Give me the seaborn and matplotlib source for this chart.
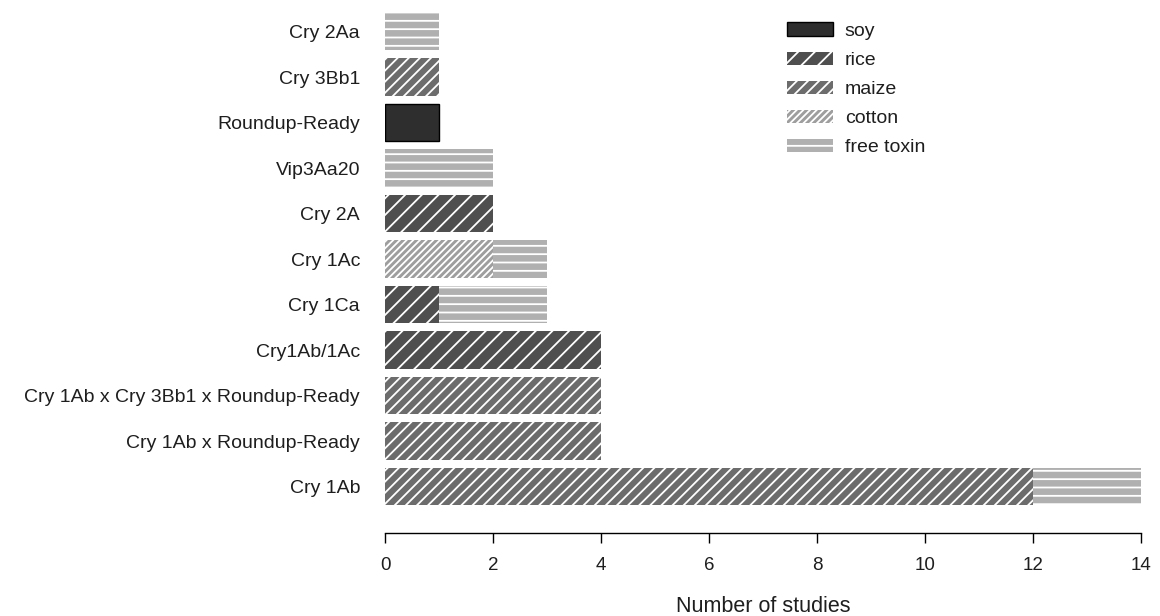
import numpy as np
import pandas as pd
import matplotlib
matplotlib.use("Agg")
import matplotlib.pyplot as plt
import seaborn as sns
from matplotlib.patches import Patch

# ---- data (top to bottom as displayed) ----
categories = ["Cry 2Aa", "Cry 3Bb1", "Roundup-Ready", "Vip3Aa20", "Cry 2A", "Cry 1Ac",
              "Cry 1Ca", "Cry1Ab/1Ac", "Cry 1Ab x Cry 3Bb1 x Roundup-Ready",
              "Cry 1Ab x Roundup-Ready", "Cry 1Ab"]
soy        = [0, 0, 1, 0, 0, 0, 0, 0, 0, 0, 0]
rice       = [0, 0, 0, 0, 2, 0, 1, 4, 0, 0, 0]
maize      = [0, 1, 0, 0, 0, 0, 0, 0, 4, 4, 12]
cotton     = [0, 0, 0, 0, 0, 2, 0, 0, 0, 0, 0]
free_toxin = [1, 0, 0, 2, 0, 1, 2, 0, 0, 0, 2]
crop_names = ["soy", "rice", "maize", "cotton", "free toxin"]
x_ticks = [0, 2, 4, 6, 8, 10, 12, 14]

sns.set_theme(style="white")
plt.rcParams["font.family"] = ["Liberation Sans", "DejaVu Sans"]
plt.rcParams["hatch.linewidth"] = 1.3

styles = {
    "soy":        dict(color="#2e2e2e", hatch=None,    edgecolor="black", linewidth=1.0),
    "rice":       dict(color="#4f4f4f", hatch="//",    edgecolor="white", linewidth=0),
    "maize":      dict(color="#6c6c6c", hatch="///",   edgecolor="white", linewidth=0),
    "cotton":     dict(color="#9e9e9e", hatch="/////", edgecolor="white", linewidth=0),
    "free toxin": dict(color="#b0b0b0", hatch="--",    edgecolor="white", linewidth=0),
}

df = pd.DataFrame({"category": categories, "soy": soy, "rice": rice, "maize": maize,
                   "cotton": cotton, "free toxin": free_toxin})
cum = df[crop_names].cumsum(axis=1)

fig = plt.figure(figsize=(11.6, 6.16), dpi=100)
ax = fig.add_axes([385/1160, 1 - 533/616, (1141 - 385)/1160, (533 - 8)/616])

# draw cumulative bars from the last layer to the first (overlap stacking)
for name in reversed(crop_names):
    mask = df[name] > 0
    sub = pd.DataFrame({"category": df.loc[mask, "category"], "value": cum.loc[mask, name]})
    st = styles[name]
    kw = dict(color=st["color"], edgecolor=st["edgecolor"], linewidth=st["linewidth"])
    if st["hatch"]:
        kw["hatch"] = st["hatch"]
    sns.barplot(data=sub, x="value", y="category", order=categories, orient="h",
                width=0.82, saturation=1, ax=ax, **kw)

txt = "#1e1e1e"
ax.set_xlim(0, 14)
ax.set_ylim(10 + 1.02, -0.52)
ax.set_xticks(x_ticks)
ax.set_xticklabels([str(t) for t in x_ticks], fontsize=13.5, color=txt)
ax.tick_params(axis="x", direction="out", length=7, width=1, color="black", pad=10, bottom=True)
ax.tick_params(axis="y", length=0, pad=18, labelsize=14, labelcolor=txt)
for s in ["top", "right", "left"]:
    ax.spines[s].set_visible(False)
ax.spines["bottom"].set_color("black")
ax.spines["bottom"].set_linewidth(1)
ax.set_ylabel("")
ax.set_xlabel("Number of studies", fontsize=15.5, color=txt, labelpad=16)

handles = []
for name in crop_names:
    st = styles[name]
    handles.append(Patch(facecolor=st["color"], edgecolor=st["edgecolor"] if name == "soy" else "white",
                         linewidth=st["linewidth"], hatch=st["hatch"], label=name))
ax.legend(handles=handles, loc="upper left",
          bbox_to_anchor=((769 - 385) / 756, 1 + 3 / 525),
          frameon=False, fontsize=14, handlelength=2.4, handleheight=0.67,
          labelspacing=0.6, handletextpad=0.6, borderpad=0.4, labelcolor=txt)

fig.savefig("out.png", dpi=100)
